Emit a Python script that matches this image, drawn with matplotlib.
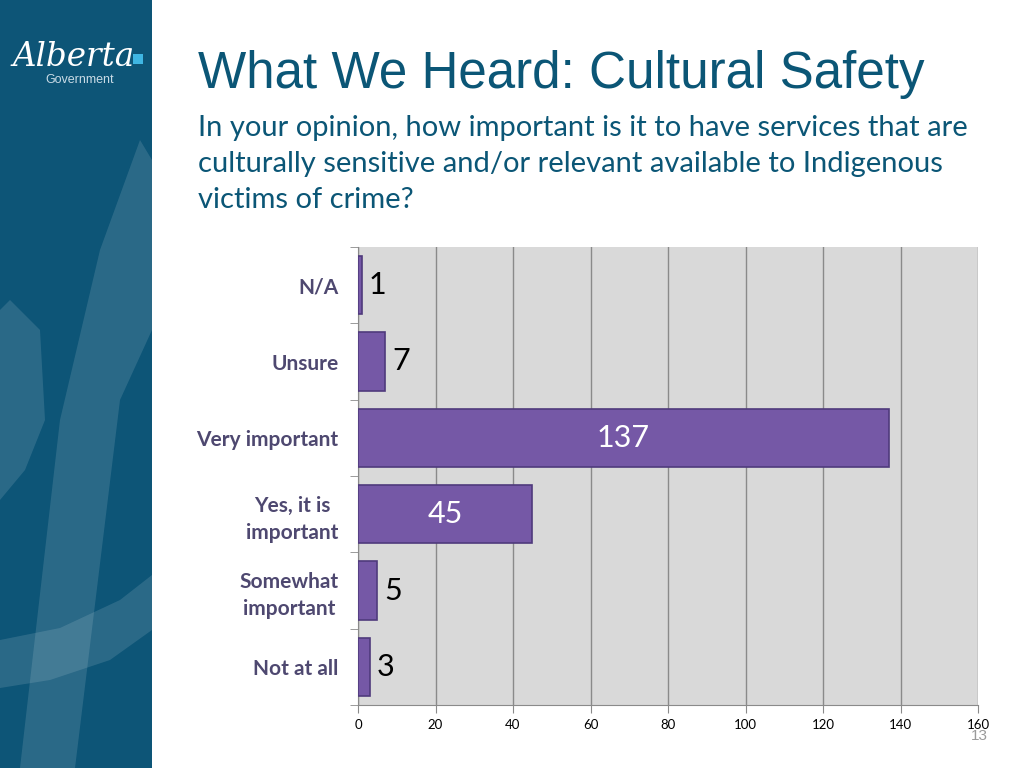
import matplotlib.pyplot as plt
from matplotlib.patches import Rectangle, Polygon

# chart data (top to bottom as shown)
categories = ["N/A", "Unsure", "Very important", "Yes, it is\nimportant",
              "Somewhat\nimportant", "Not at all"]
counts = [1, 7, 137, 45, 5, 3]
x_ticks = [0, 20, 40, 60, 80, 100, 120, 140, 160]

title = "What We Heard: Cultural Safety"
question = ("In your opinion, how important is it to have services that are\n"
            "culturally sensitive and/or relevant available to Indigenous\n"
            "victims of crime?")
page_no = "13"

band_col = "#0d5577"
title_col = "#0b5676"
bar_col = "#7558a6"
bar_edge = "#4f3a7c"
label_col = "#4e4870"

fig = plt.figure(figsize=(10.24, 7.68), dpi=100)
fig.patch.set_facecolor("white")

# left blue band with faded swooshes
fig.patches.append(Rectangle((0, 0), 152 / 1024, 1, transform=fig.transFigure,
                             facecolor=band_col, edgecolor="none", zorder=0))
swoosh1 = [(140, 140), (152, 160), (152, 330), (120, 400), (75, 768), (20, 768), (60, 420), (100, 250)]
swoosh2 = [(0, 640), (60, 628), (120, 600), (152, 575), (152, 630), (110, 660), (50, 680), (0, 688)]
swoosh3 = [(10, 300), (40, 330), (45, 420), (25, 470), (0, 500), (0, 310)]
for pts in (swoosh1, swoosh2, swoosh3):
    fig.patches.append(Polygon([(x / 1024, 1 - y / 768) for x, y in pts], closed=True,
                               transform=fig.transFigure, facecolor="white",
                               alpha=0.12, edgecolor="none", zorder=1))

# logo
fig.text(12 / 1024, 1 - 66 / 768, "Alberta", color="white", fontsize=23.5,
         family="DejaVu Serif", style="italic", va="baseline", ha="left")
fig.patches.append(Rectangle((133 / 1024, 1 - 64 / 768), 10 / 1024, 10 / 768,
                             transform=fig.transFigure, facecolor="#3fb6e3",
                             edgecolor="none", zorder=2))
fig.text(80 / 1024, 1 - 80 / 768, "Government", color="#c9dbe6", fontsize=9,
         family="Liberation Sans", ha="center", va="center")

# headings
fig.text(198 / 1024, 1 - 88 / 768, title, color=title_col, fontsize=36.8,
         family="Liberation Sans", ha="left", va="baseline")
fig.text(198 / 1024, 1 - 115 / 768, question, color=title_col, fontsize=21,
         family="Lato", ha="left", va="top", linespacing=1.47)

# chart
ax = fig.add_axes([358 / 1024, 1 - 705 / 768, 620 / 1024, 458 / 768])
ax.set_facecolor("#d9d9d9")
ypos = list(range(len(categories)))
ax.barh(ypos, counts, height=0.76, color=bar_col, edgecolor=bar_edge,
        linewidth=1.2, zorder=3)
ax.set_xlim(0, 160)
ax.set_ylim(len(categories) - 0.5, -0.5)
ax.set_xticks(x_ticks)
ax.set_xticklabels([str(t) for t in x_ticks], fontsize=9.5, family="Lato")
ax.grid(axis="x", color="#8a8a8a", linewidth=1, zorder=1)
ax.set_yticks(ypos)
ax.set_yticklabels(categories, fontsize=15, family="Lato", fontweight="bold",
                   color=label_col)
for lbl in ax.get_yticklabels():
    lbl.set_multialignment("center")
    lbl.set_linespacing(1.4)
ax.set_yticks([i - 0.5 for i in range(len(categories) + 1)], minor=True)
ax.tick_params(axis="y", which="major", length=0, pad=14)
ax.tick_params(axis="y", which="minor", length=6, color="#8a8a8a")
ax.tick_params(axis="x", length=6, color="#8a8a8a", pad=4)
for side in ("top", "right"):
    ax.spines[side].set_visible(False)
for side in ("left", "bottom"):
    ax.spines[side].set_color("#8a8a8a")

for y, v in zip(ypos, counts):
    if v > 30:
        ax.text(v / 2, y, str(v), color="white", fontsize=22, family="Lato",
                ha="center", va="center", zorder=4)
    else:
        ax.annotate(str(v), (v, y), xytext=(5, 0), textcoords="offset points",
                    color="black", fontsize=22, family="Lato",
                    ha="left", va="center", zorder=4)

fig.text(988 / 1024, 1 - 736 / 768, page_no, color="#9a9a9a", fontsize=11,
         family="Liberation Sans", ha="right", va="center")

fig.savefig("out.png", dpi=100)
